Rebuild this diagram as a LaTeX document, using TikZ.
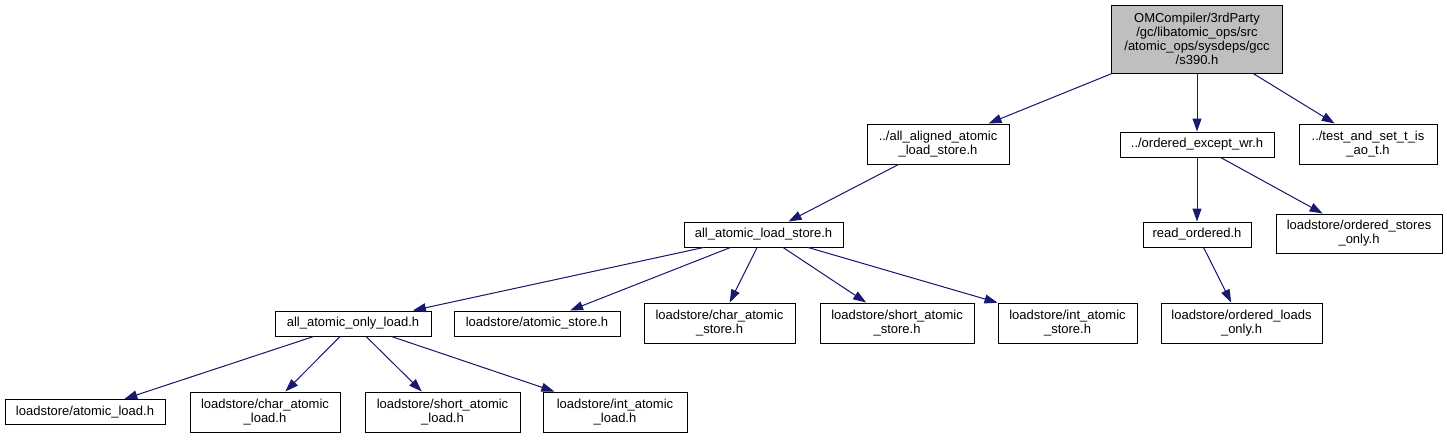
\documentclass[tikz,border=0pt]{standalone}
\usepackage{fontspec}
\setmainfont{Liberation Sans}
\usetikzlibrary{arrows.meta}
\definecolor{edgeblue}{HTML}{191970}
\definecolor{rootgray}{HTML}{BFBFBF}
\tikzset{
  >={Triangle[length=13pt,width=9pt]},
  box/.style={draw=black,line width=1pt,fill=white,align=center,inner sep=0pt,minimum height=25pt,font=\fontsize{13}{14}\selectfont},
  tall/.style={minimum height=40pt},
  flow/.style={->,line width=1pt,draw=edgeblue,fill=edgeblue}
}

\begin{document}
\begin{tikzpicture}[x=1pt,y=-1pt]
  \useasboundingbox (0,0) rectangle (1447,439);
  \node[box,fill=rootgray,minimum width=171pt,minimum height=68pt] (root) at (1197,39) {OMCompiler/3rdParty\\/gc/libatomic\_ops/src\\/atomic\_ops/sysdeps/gcc\\/s390.h};
  \node[box,tall,minimum width=142pt] (aligned) at (938,144) {../all\_aligned\_atomic\\\_load\_store.h};
  \node[box,minimum width=154pt] (exceptwr) at (1197,144.5) {../ordered\_except\_wr.h};
  \node[box,tall,minimum width=138pt] (testset) at (1368,144) {../test\_and\_set\_t\_is\\\_ao\_t.h};
  \node[box,minimum width=159pt] (loadstore) at (763.5,234.5) {all\_atomic\_load\_store.h};
  \node[box,minimum width=108pt] (readord) at (1197,234.5) {read\_ordered.h};
  \node[box,minimum width=166pt,minimum height=39pt] (ordstores) at (1359,233.5) {loadstore/ordered\_stores\\\_only.h};
  \node[box,minimum width=156pt] (onlyload) at (353,323.5) {all\_atomic\_only\_load.h};
  \node[box,minimum width=166pt] (atomstore) at (537,323.5) {loadstore/atomic\_store.h};
  \node[box,tall,minimum width=151pt] (charstore) at (719.5,323) {loadstore/char\_atomic\\\_store.h};
  \node[box,tall,minimum width=154pt] (shortstore) at (897,323) {loadstore/short\_atomic\\\_store.h};
  \node[box,tall,minimum width=139pt] (intstore) at (1067.5,323) {loadstore/int\_atomic\\\_store.h};
  \node[box,tall,minimum width=161pt] (ordloads) at (1241.5,323) {loadstore/ordered\_loads\\\_only.h};
  \node[box,minimum width=160pt] (atomload) at (85,412) {loadstore/atomic\_load.h};
  \node[box,tall,minimum width=150pt] (charload) at (265,412) {loadstore/char\_atomic\\\_load.h};
  \node[box,tall,minimum width=155pt] (shortload) at (442.5,412) {loadstore/short\_atomic\\\_load.h};
  \node[box,tall,minimum width=144pt] (intload) at (615,412) {loadstore/int\_atomic\\\_load.h};
  \draw[flow] (root) -- (aligned);
  \draw[flow] (root) -- (exceptwr);
  \draw[flow] (root) -- (testset);
  \draw[flow] (aligned) -- (loadstore);
  \draw[flow] (exceptwr) -- (readord);
  \draw[flow] (exceptwr) -- (ordstores);
  \draw[flow] (readord) -- (ordloads);
  \draw[flow] (loadstore) -- (onlyload);
  \draw[flow] (loadstore) -- (atomstore);
  \draw[flow] (loadstore) -- (charstore);
  \draw[flow] (loadstore) -- (shortstore);
  \draw[flow] (loadstore) -- (intstore);
  \draw[flow] (onlyload) -- (atomload);
  \draw[flow] (onlyload) -- (charload);
  \draw[flow] (onlyload) -- (shortload);
  \draw[flow] (onlyload) -- (intload);
\end{tikzpicture}
\end{document}
